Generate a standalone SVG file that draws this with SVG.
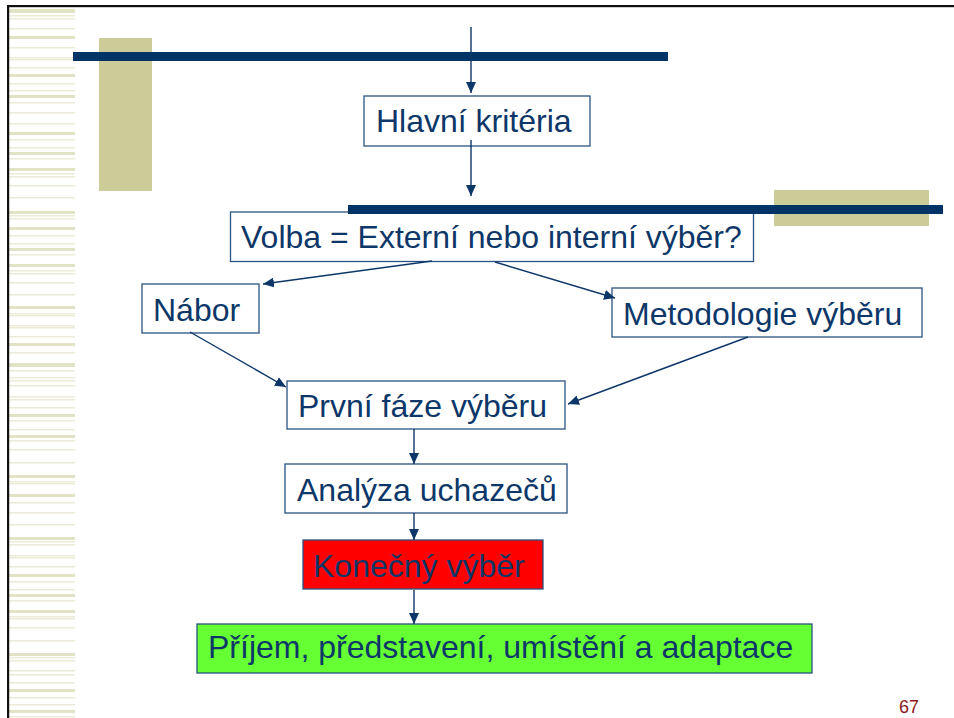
<svg xmlns="http://www.w3.org/2000/svg" width="954" height="718" viewBox="0 0 954 718">
<defs>
<style>
.box{stroke:#2a5282;stroke-width:1.3}
.t{font-family:"Liberation Sans",Arial,sans-serif;font-size:32px;fill:#0d3768}
.c{stroke:#0d3768;stroke-width:1.4;fill:none}
.h{fill:#e2e2c4}
.l{fill:#ebebd8}
</style>
<marker id="ah" markerUnits="userSpaceOnUse" markerWidth="12" markerHeight="10" refX="11" refY="5" orient="auto">
<path d="M0,0 L11,5 L0,10 Z" fill="#0d3768"/>
</marker>
</defs>
<rect width="954" height="718" fill="#fff"/>
<g id="stripes">
<rect class="h" x="9" y="9" width="66" height="4"/><rect class="l" x="9" y="15" width="66" height="1.5"/><rect class="l" x="9" y="18" width="66" height="1.5"/><rect class="l" x="9" y="28" width="66" height="1.5"/>
<rect class="h" x="9" y="36" width="66" height="3"/><rect class="l" x="9" y="47" width="66" height="1.5"/><rect class="l" x="9" y="57" width="66" height="1.5"/><rect class="l" x="9" y="59" width="66" height="1.5"/><rect class="l" x="9" y="67" width="66" height="1.5"/>
<rect class="h" x="9" y="74" width="66" height="3"/><rect class="l" x="9" y="83" width="66" height="1.5"/><rect class="l" x="9" y="90" width="66" height="1.5"/><rect class="h" x="9" y="95" width="66" height="3"/><rect class="l" x="9" y="102" width="66" height="1.5"/>
<rect class="l" x="9" y="112" width="66" height="1.5"/><rect class="l" x="9" y="123" width="66" height="1.5"/><rect class="h" x="9" y="132" width="66" height="3"/><rect class="l" x="9" y="139" width="66" height="1.5"/><rect class="l" x="9" y="147" width="66" height="1.5"/>
<rect class="h" x="9" y="152" width="66" height="3"/><rect class="l" x="9" y="158" width="66" height="1.5"/><rect class="h" x="9" y="168" width="66" height="3"/><rect class="l" x="9" y="173" width="66" height="1.5"/><rect class="l" x="9" y="176" width="66" height="1.5"/>
<rect class="l" x="9" y="185" width="66" height="1.5"/><rect class="l" x="9" y="197" width="66" height="1.5"/><rect class="h" x="9" y="211" width="66" height="3"/><rect class="l" x="9" y="215" width="66" height="1.5"/><rect class="l" x="9" y="218" width="66" height="1.5"/>
<rect class="h" x="9" y="227" width="66" height="3"/><rect class="l" x="9" y="235" width="66" height="1.5"/><rect class="l" x="9" y="243" width="66" height="1.5"/><rect class="h" x="9" y="248" width="66" height="3"/><rect class="l" x="9" y="254" width="66" height="1.5"/>
<rect class="h" x="9" y="264" width="66" height="3"/><rect class="l" x="9" y="270" width="66" height="1.5"/><rect class="l" x="9" y="273" width="66" height="1.5"/><rect class="l" x="9" y="282" width="66" height="1.5"/><rect class="l" x="9" y="294" width="66" height="1.5"/>
<rect class="h" x="9" y="306" width="66" height="3"/><rect class="l" x="9" y="313" width="66" height="1.5"/><rect class="l" x="9" y="315" width="66" height="1.5"/><rect class="l" x="9" y="325" width="66" height="1.5"/><rect class="l" x="9" y="327" width="66" height="1.5"/>
<rect class="l" x="9" y="336" width="66" height="1.5"/><rect class="h" x="9" y="343" width="66" height="3"/><rect class="l" x="9" y="352" width="66" height="1.5"/><rect class="h" x="9" y="363" width="66" height="4"/><rect class="l" x="9" y="370" width="66" height="1.5"/>
<rect class="l" x="9" y="377" width="66" height="1.5"/><rect class="l" x="9" y="380" width="66" height="1.5"/><rect class="l" x="9" y="385" width="66" height="1.5"/><rect class="l" x="9" y="396" width="66" height="1.5"/><rect class="l" x="9" y="399" width="66" height="1.5"/>
<rect class="l" x="9" y="407" width="66" height="1.5"/><rect class="h" x="9" y="414" width="66" height="3"/><rect class="l" x="9" y="420" width="66" height="1.5"/><rect class="l" x="9" y="429" width="66" height="1.5"/><rect class="h" x="9" y="435" width="66" height="3"/>
<rect class="l" x="9" y="440" width="66" height="1.5"/><rect class="l" x="9" y="449" width="66" height="1.5"/><rect class="l" x="9" y="462" width="66" height="1.5"/><rect class="h" x="9" y="475" width="66" height="3"/><rect class="l" x="9" y="481" width="66" height="1.5"/>
<rect class="l" x="9" y="483" width="66" height="1.5"/><rect class="h" x="9" y="494" width="66" height="3"/><rect class="l" x="9" y="502" width="66" height="1.5"/><rect class="l" x="9" y="512" width="66" height="1.5"/><rect class="l" x="9" y="524" width="66" height="1.5"/>
<rect class="h" x="9" y="537" width="66" height="3"/><rect class="l" x="9" y="541" width="66" height="1.5"/><rect class="l" x="9" y="544" width="66" height="1.5"/><rect class="l" x="9" y="555" width="66" height="1.5"/><rect class="l" x="9" y="557" width="66" height="1.5"/>
<rect class="l" x="9" y="566" width="66" height="1.5"/><rect class="h" x="9" y="574" width="66" height="3"/><rect class="l" x="9" y="581" width="66" height="1.5"/><rect class="l" x="9" y="589" width="66" height="1.5"/><rect class="h" x="9" y="594" width="66" height="3"/>
<rect class="l" x="9" y="600" width="66" height="1.5"/><rect class="h" x="9" y="610" width="66" height="3"/><rect class="l" x="9" y="616" width="66" height="1.5"/><rect class="l" x="9" y="618" width="66" height="1.5"/><rect class="l" x="9" y="627" width="66" height="1.5"/>
<rect class="l" x="9" y="640" width="66" height="1.5"/><rect class="h" x="9" y="653" width="66" height="3"/><rect class="l" x="9" y="657" width="66" height="1.5"/><rect class="l" x="9" y="660" width="66" height="1.5"/><rect class="l" x="9" y="670" width="66" height="1.5"/>
<rect class="l" x="9" y="674" width="66" height="1.5"/><rect class="l" x="9" y="682" width="66" height="1.5"/><rect class="h" x="9" y="689" width="66" height="3"/><rect class="l" x="9" y="697" width="66" height="1.5"/><rect class="l" x="9" y="704" width="66" height="1.5"/>
<rect class="h" x="9" y="710" width="66" height="3"/><rect class="l" x="9" y="716" width="66" height="1.5"/>
</g>
<g id="frame">
<rect x="7" y="5" width="947" height="2.2" fill="#111"/>
<rect x="7" y="5" width="2.2" height="713" fill="#111"/>
</g>
<g id="decor">
<rect x="99" y="38" width="53" height="153" fill="#cccc99"/>
<rect x="774" y="190" width="155" height="36" fill="#cccc99"/>
<rect x="73" y="52" width="595" height="9" fill="#003366"/>
</g>
<g id="n1"><rect class="box" x="364" y="96" width="226" height="50" fill="#fff"/><text class="t" x="376" y="132">Hlavní kritéria</text></g>
<g id="n2"><rect class="box" x="230.5" y="212" width="523" height="49.5" fill="#fff"/><text class="t" x="241" y="248">Volba = Externí nebo interní výběr?</text></g>
<g id="n3"><rect class="box" x="142" y="284" width="117" height="49" fill="#fff"/><text class="t" x="153" y="321">Nábor</text></g>
<g id="n4"><rect class="box" x="612" y="288" width="310" height="49" fill="#fff"/><text class="t" x="623" y="325">Metodologie výběru</text></g>
<g id="n5"><rect class="box" x="287" y="381" width="278" height="48" fill="#fff"/><text class="t" x="298" y="417">První fáze výběru</text></g>
<g id="n6"><rect class="box" x="285" y="464" width="282" height="49" fill="#fff"/><text class="t" x="297" y="501">Analýza uchazečů</text></g>
<g id="n7"><rect class="box" x="303" y="540" width="240" height="49" fill="#ff0000"/><text class="t" x="313" y="577">Konečný výběr</text></g>
<g id="n8"><rect class="box" x="197" y="624" width="615" height="49" fill="#66ff33"/><text class="t" x="208" y="658">Příjem, představení, umístění a adaptace</text></g>
<g id="decor2"><rect x="348" y="205" width="595" height="9" fill="#003366"/></g>
<g id="connectors">
<line class="c" x1="471" y1="27" x2="471" y2="93" marker-end="url(#ah)"/>
<line class="c" x1="471" y1="140" x2="471" y2="196" marker-end="url(#ah)"/>
<line class="c" x1="432" y1="261" x2="263" y2="284" marker-end="url(#ah)"/>
<line class="c" x1="495" y1="262" x2="615" y2="298" marker-end="url(#ah)"/>
<line class="c" x1="190" y1="332" x2="286" y2="387" marker-end="url(#ah)"/>
<line class="c" x1="748" y1="337" x2="568" y2="404" marker-end="url(#ah)"/>
<line class="c" x1="414" y1="429" x2="414" y2="464" marker-end="url(#ah)"/>
<line class="c" x1="414" y1="513" x2="414" y2="540" marker-end="url(#ah)"/>
<line class="c" x1="414" y1="590" x2="414" y2="624" marker-end="url(#ah)"/>
</g>
<text x="899" y="713" font-family="Liberation Sans,Arial,sans-serif" font-size="18" fill="#8b1a1a">67</text>
</svg>
